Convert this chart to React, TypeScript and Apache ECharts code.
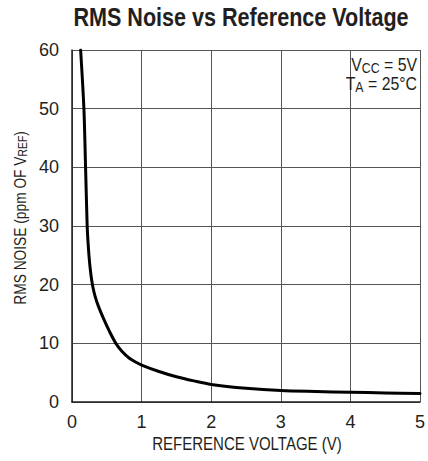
import React, { useEffect, useRef } from "react";
import * as echarts from "echarts";

const xTicks = [0, 1, 2, 3, 4, 5];
const yTicks = [0, 10, 20, 30, 40, 50, 60];
const voltage = [0.124, 0.171, 0.195, 0.218, 0.23, 0.245, 0.26, 0.28, 0.3, 0.33, 0.38, 0.45, 0.54, 0.63, 0.72, 0.82, 0.9, 1, 1.25, 1.5, 1.75, 2, 2.5, 3, 3.5, 4, 4.5, 5];
const noise = [60, 50, 40, 30, 27.3, 24.8, 22.9, 21, 19.6, 18.1, 16.3, 14.3, 12, 10, 8.6, 7.5, 6.9, 6.3, 5.2, 4.3, 3.6, 3.0, 2.35, 1.95, 1.78, 1.65, 1.55, 1.45];

const FONT = "'Liberation Sans', Arial, sans-serif";
const INK = "#231f20";

export default function App() {
  const ref = useRef<HTMLDivElement>(null);
  useEffect(() => {
    if (!ref.current) return;
    const chart = echarts.init(ref.current, null, { renderer: "svg" });
    const data = voltage.map((v, i) => [v, noise[i]]);
    chart.setOption({
      animation: false,
      backgroundColor: "#fff",
      grid: { left: 72, right: 5, top: 50, bottom: 59, containLabel: false },
      xAxis: {
        type: "value",
        min: xTicks[0],
        max: xTicks[xTicks.length - 1],
        interval: 1,
        axisLine: { show: true, lineStyle: { color: INK, width: 1.5 } },
        axisTick: { show: false },
        axisLabel: { fontFamily: FONT, fontSize: 18, color: INK, margin: 11 },
        splitLine: { show: true, lineStyle: { color: "#555", width: 1 } },
      },
      yAxis: {
        type: "value",
        min: yTicks[0],
        max: yTicks[yTicks.length - 1],
        interval: 10,
        axisLine: { show: true, lineStyle: { color: INK, width: 1.5 } },
        axisTick: { show: false },
        axisLabel: { fontFamily: FONT, fontSize: 18, color: INK, margin: 13 },
        splitLine: { show: true, lineStyle: { color: "#555", width: 1 } },
      },
      graphic: [
        {
          type: "text",
          x: 241,
          y: 17,
          scaleX: 0.83,
          style: {
            text: "RMS Noise vs Reference Voltage",
            fontFamily: FONT,
            fontWeight: "bold",
            fontSize: 26,
            fill: INK,
            align: "center",
            verticalAlign: "middle",
          },
        },
        {
          type: "text",
          x: 247,
          y: 444,
          scaleX: 0.79,
          style: {
            text: "REFERENCE VOLTAGE (V)",
            fontFamily: FONT,
            fontSize: 19,
            fill: INK,
            align: "center",
            verticalAlign: "middle",
          },
        },
        {
          type: "text",
          x: 20,
          y: 218,
          rotation: Math.PI / 2,
          scaleX: 0.86,
          style: {
            text: "RMS NOISE (ppm OF V{sub|REF})",
            fontFamily: FONT,
            fontSize: 16,
            fill: INK,
            align: "center",
            verticalAlign: "middle",
            rich: {
              sub: { fontFamily: FONT, fontSize: 12, fill: INK, verticalAlign: "bottom", padding: [6, 0, 0, 0] },
            },
          },
        },
        {
          type: "text",
          x: 417,
          y: 56,
          scaleX: 0.88,
          style: {
            text: "V{sub|CC} = 5V\nT{sub|A} = 25°C",
            fontFamily: FONT,
            fontSize: 18,
            lineHeight: 19,
            fill: INK,
            align: "right",
            verticalAlign: "top",
            rich: {
              sub: { fontFamily: FONT, fontSize: 14, fill: INK, verticalAlign: "bottom", padding: [5, 0, 0, 0] },
            },
          },
          z: 100,
        },
      ],
      series: [
        {
          type: "line",
          data,
          smooth: 0.3,
          showSymbol: false,
          lineStyle: { color: "#000", width: 3, join: "round", cap: "round" },
          clip: true,
        },
      ],
    });
    return () => chart.dispose();
  }, []);
  return <div ref={ref} style={{ width: 428, height: 461, position: "absolute", left: 0, top: 0 }} />;
}
